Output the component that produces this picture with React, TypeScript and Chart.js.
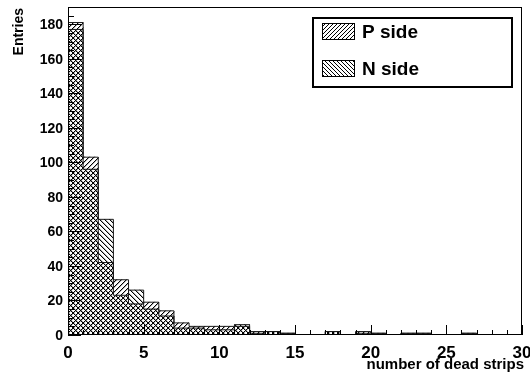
import React, { useEffect, useRef } from "react";
import { Chart, registerables } from "chart.js";

Chart.register(...registerables);

// ---- data (bins of width 1, from 0 to 30) ----
const binLowEdges: number[] = Array.from({ length: 30 }, (_, i) => i);
const pSide: number[] = [181, 103, 42, 32, 18, 19, 14, 7, 5, 5, 5, 5, 2, 2, 1, 0, 0, 2, 0, 2, 1, 0, 1, 1, 0, 0, 1, 0, 0, 0];
const nSide: number[] = [177, 96, 67, 23, 26, 15, 11, 4, 4, 3, 3, 6, 1, 2, 1, 0, 0, 2, 0, 1, 1, 0, 1, 1, 0, 0, 1, 0, 0, 0];
const xTickLabels: number[] = [0, 5, 10, 15, 20, 25, 30];
const yTickLabels: number[] = [0, 20, 40, 60, 80, 100, 120, 140, 160, 180];
const seriesNames: string[] = ["P side", "N side"];
const xTitle = "number of dead strips";
const yTitle = "Entries";

const X_MIN = 0;
const X_MAX = 30;
const Y_MIN = 0;
const Y_MAX = 190;

const FONT = "'Liberation Sans', Arial, Helvetica, sans-serif";

function makeHatch(dir: "fwd" | "back", s: number, soft: number): CanvasPattern | string {
  const c = document.createElement("canvas");
  c.width = s;
  c.height = s;
  const g = c.getContext("2d");
  if (!g) return "rgba(0,0,0,0)";
  for (let y = 0; y < s; y++) {
    for (let x = 0; x < s; x++) {
      const k = dir === "fwd" ? (x + y) % s : (((x - y) % s) + s) % s;
      if (k === 0) {
        g.fillStyle = "#000";
        g.fillRect(x, y, 1, 1);
      } else if (k === 1 && soft > 0) {
        g.fillStyle = `rgba(0,0,0,${soft})`;
        g.fillRect(x, y, 1, 1);
      }
    }
  }
  const ctx = document.createElement("canvas").getContext("2d");
  const p = ctx ? ctx.createPattern(c, "repeat") : null;
  return p || "rgba(0,0,0,0)";
}

// step outline points: (edge, height) pairs
function stepPoints(vals: number[]) {
  const pts: { x: number; y: number }[] = [{ x: binLowEdges[0], y: 0 }];
  vals.forEach((v, i) => pts.push({ x: binLowEdges[i], y: v }));
  pts.push({ x: binLowEdges[binLowEdges.length - 1] + 1, y: 0 });
  return pts;
}

export default function App() {
  const ref = useRef<HTMLCanvasElement | null>(null);

  useEffect(() => {
    const canvas = ref.current;
    if (!canvas) return;
    const hatchP = makeHatch("fwd", 5, 0.3);
    const hatchN = makeHatch("back", 5, 0.3);
    const legP = makeHatch("fwd", 4, 0);
    const legN = makeHatch("back", 4, 0);

    const rootAxes = {
      id: "rootAxes",
      afterDatasetsDraw(chart: any) {
        const { ctx, chartArea, scales } = chart;
        const { left, right, top, bottom } = chartArea;
        const xs = scales.x;
        const ys = scales.y;
        ctx.save();
        ctx.strokeStyle = "#000";
        ctx.lineWidth = 1;
        // frame
        ctx.strokeRect(Math.round(left) + 0.5, Math.round(top) + 0.5, Math.round(right - left) - 1, Math.round(bottom - top) - 1);
        // x ticks
        ctx.beginPath();
        for (let v = X_MIN; v <= X_MAX; v++) {
          const px = Math.round(xs.getPixelForValue(v)) + 0.5;
          const len = v % 5 === 0 ? 10 : 5;
          ctx.moveTo(px, bottom);
          ctx.lineTo(px, bottom - len);
        }
        // y ticks
        for (let v = Y_MIN; v <= Y_MAX; v += 5) {
          const py = Math.round(ys.getPixelForValue(v)) + 0.5;
          const len = v % 20 === 0 ? 13 : 6;
          ctx.moveTo(left, py);
          ctx.lineTo(left + len, py);
        }
        ctx.stroke();

        // tick labels
        ctx.fillStyle = "#000";
        ctx.font = `bold 14px ${FONT}`;
        ctx.textAlign = "right";
        ctx.textBaseline = "middle";
        for (const v of yTickLabels) {
          ctx.fillText(String(v), left - 5, ys.getPixelForValue(v) + 1);
        }
        ctx.font = `bold 17px ${FONT}`;
        ctx.textAlign = "center";
        ctx.textBaseline = "alphabetic";
        for (const v of xTickLabels) {
          ctx.fillText(String(v), xs.getPixelForValue(v), bottom + 23);
        }
        // axis titles
        ctx.font = `bold 15px ${FONT}`;
        ctx.textAlign = "right";
        ctx.fillText(xTitle, right + 2, bottom + 34);
        ctx.save();
        ctx.font = `bold 14px ${FONT}`;
        ctx.translate(23, top + 1);
        ctx.rotate(-Math.PI / 2);
        ctx.textAlign = "right";
        ctx.fillText(yTitle, 0, 0);
        ctx.restore();

        // legend
        const lx = 313, ly = 18, lw = 199, lh = 69;
        ctx.fillStyle = "#fff";
        ctx.fillRect(lx, ly, lw, lh);
        ctx.lineWidth = 2;
        ctx.strokeRect(lx, ly, lw, lh);
        ctx.lineWidth = 1;
        const pats = [legP, legN];
        for (let i = 0; i < seriesNames.length; i++) {
          const sy = 23 + i * 37;
          ctx.fillStyle = "#fff";
          ctx.fillRect(322, sy, 32, 16);
          ctx.fillStyle = pats[i] as any;
          ctx.fillRect(322, sy, 32, 16);
          ctx.strokeRect(322.5, sy + 0.5, 32, 16);
          ctx.fillStyle = "#000";
          ctx.font = `bold 19px ${FONT}`;
          ctx.textAlign = "left";
          ctx.textBaseline = "alphabetic";
          ctx.fillText(seriesNames[i], 362, sy + 15);
        }
        ctx.restore();
      },
    };

    const outline = (vals: number[], label: string, order: number) =>
      ({
        type: "line",
        label,
        data: stepPoints(vals),
        stepped: "before",
        borderColor: "#1a1a1a",
        borderWidth: 1,
        pointRadius: 0,
        fill: false,
        order,
      } as any);

    const chart = new Chart(canvas, {
      type: "bar",
      data: {
        datasets: [
          {
            type: "bar",
            label: seriesNames[0],
            data: binLowEdges.map((e, i) => ({ x: e + 0.5, y: pSide[i] })),
            backgroundColor: hatchP as any,
            borderWidth: 0,
            grouped: false,
            barPercentage: 1,
            categoryPercentage: 1,
            order: 3,
          } as any,
          {
            type: "bar",
            label: seriesNames[1],
            data: binLowEdges.map((e, i) => ({ x: e + 0.5, y: nSide[i] })),
            backgroundColor: hatchN as any,
            borderWidth: 0,
            grouped: false,
            barPercentage: 1,
            categoryPercentage: 1,
            order: 2,
          } as any,
          outline(pSide, seriesNames[0] + " outline", 1),
          outline(nSide, seriesNames[1] + " outline", 0),
        ],
      },
      options: {
        animation: false,
        responsive: false,
        devicePixelRatio: 1,
        layout: { padding: { left: 68, right: 8, top: 7, bottom: 41 } },
        plugins: { legend: { display: false }, tooltip: { enabled: false } },
        scales: {
          x: { type: "linear", min: X_MIN, max: X_MAX, display: false, offset: false },
          y: { type: "linear", min: Y_MIN, max: Y_MAX, display: false },
        },
      },
      plugins: [rootAxes],
    });
    return () => chart.destroy();
  }, []);

  return (
    <div style={{ position: "absolute", left: 0, top: 0, width: 530, height: 376, background: "#fff" }}>
      <canvas ref={ref} width={530} height={376} style={{ width: 530, height: 376, display: "block" }} />
    </div>
  );
}
